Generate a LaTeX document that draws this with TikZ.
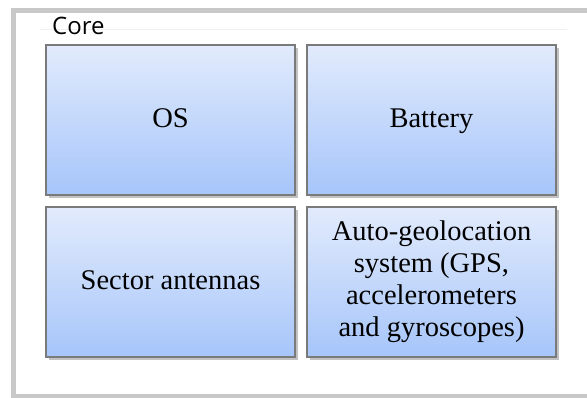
\documentclass[tikz,border=0pt]{standalone}
\usepackage{fontspec}
\setmainfont{Liberation Serif}
\newfontfamily\corefont{Open Sans}
\usetikzlibrary{positioning, shadows}
\definecolor{frame}   {HTML}{C8C8C8}
\definecolor{rule}    {HTML}{F0F0F0}
\definecolor{edge}    {HTML}{7A7A7A}
\definecolor{boxtop}  {HTML}{E2EBFC}
\definecolor{boxbot}  {HTML}{A6C5FA}

\tikzset{
  part/.style={draw=edge, line width=1.2pt, top color=boxtop, bottom color=boxbot,
    minimum width=249pt, minimum height=150pt, outer sep=0pt, align=center,
    font=\fontsize{28.5}{32}\selectfont,
    drop shadow={shadow xshift=2.5pt, shadow yshift=-3pt, opacity=0.4, fill=black!60}},
  oneline/.style={text height=20pt, text depth=4pt}
}

\begin{document}
\begin{tikzpicture}[x=1pt, y=-1pt]
  \useasboundingbox (0,0) rectangle (587,398);
  % outer frame, cut off on the right
  \draw[frame, line width=4.5pt] (590,10.5) -| (13.5,396) -- (590,396);
  \draw[rule, line width=1pt] (40,30) -- (567,30);
  \node[anchor=base west, inner sep=0pt, font=\corefont\fontsize{24}{28}\selectfont] (core) at (52,35) {Core};

  \node[part, oneline] (os) at (170.5,120) {OS};
  \node[part, oneline, right=12pt of os] (bat) {Battery};
  \node[part, oneline, below=12pt of os] (ant) {Sector antennas};
  \node[part, below=12pt of bat] (geo)
    {Auto-geolocation\\system (GPS,\\accelerometers\\and gyroscopes)};
\end{tikzpicture}
\end{document}
